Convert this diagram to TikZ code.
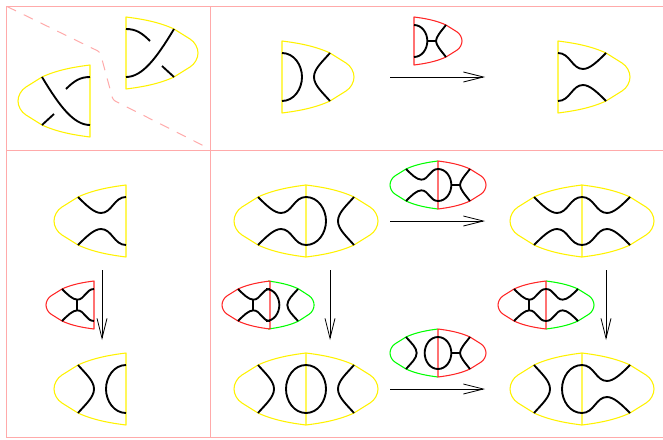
\documentclass[tikz,border=0pt]{standalone}
\usepackage{xcolor}
\usepackage{tikz}
\usetikzlibrary{arrows.meta}
\definecolor{framepink}{RGB}{255,170,170}
\newcommand{\lobecurve}{(0,-36) .. controls (16,-34) and (33,-31) .. (48,-24) -- (64,-14)
      .. controls (69,-11) and (72,-5) .. (72,0) .. controls (72,5) and (69,11) .. (64,14)
      -- (48,24) .. controls (33,31) and (16,34) .. (0,36)}
\newcommand{\wavycurves}{
    \draw[strand] (0,-24) .. controls (12,-24) and (14,-8) .. (25,-8) .. controls (32,-8) and (40,-16) .. (48,-24);
    \draw[strand] (0,24) .. controls (12,24) and (14,8) .. (25,8) .. controls (32,8) and (40,16) .. (48,24);
}
\tikzset{
  frameline/.style={draw=framepink, line width=0.6pt},
  cutline/.style={draw=framepink, line width=0.75pt, dash pattern=on 7.5pt off 6.5pt, rounded corners=2pt},
  yellowline/.style={draw=yellow, line width=0.8pt, line join=round},
  redline/.style={draw=red!85, line width=0.8pt, line join=round},
  greenline/.style={draw=green, line width=0.8pt, line join=round},
  strand/.style={draw=black, line width=1.4pt},
  arrow/.style={draw=black, line width=0.6pt, -{Straight Barb[length=15pt, width=7.5pt, line width=0.6pt]}},
  small/.style={scale=2/3},
  flipped/.style={xscale=-1},
  lobe/.pic={
    \draw[#1] \lobecurve -- cycle;
  },
  lobearc/.pic={
    \draw[#1] \lobecurve;
  },
  wavy/.pic={
    \wavycurves
  },
  wavybar/.pic={
    \wavycurves
    \draw[strand] (25,-8) -- (25,8);
  },
  capbow/.pic={
    \draw[strand] (0,-24) .. controls (12,-24) and (20,-12) .. (20,0) .. controls (20,12) and (12,24) .. (0,24);
    \draw[strand] (48,-24) .. controls (40,-15) and (32,-8) .. (32,0) .. controls (32,8) and (40,15) .. (48,24);
  },
  capfork/.pic={
    \draw[strand] (0,-24) .. controls (12,-24) and (20,-12) .. (20,0) .. controls (20,12) and (12,24) .. (0,24);
    \draw[strand] (48,-24) .. controls (40,-14) and (33,-6) .. (33,0) .. controls (33,6) and (40,14) .. (48,24);
    \draw[strand] (20,0) -- (33,0);
  },
  crossed/.pic={
    \draw[strand] (0,24) .. controls (16,24) and (30,6) .. (48,-24);
    \draw[strand] (0,-24) .. controls (10,-24) and (16,-20) .. (24,-12);
    \draw[strand] (48,24) -- (36,13);
  }
}
\begin{document}
\begin{tikzpicture}[x=0.75pt, y=-0.75pt]
  \useasboundingbox (0,0) rectangle (663,439);

  % Frame
  \draw[frameline] (663,6) -- (6,6) -- (6,437) -- (663,437);
  \draw[frameline] (6,150) -- (663,150);
  \draw[frameline] (210,6) -- (210,437);
  \draw[cutline] (7,6.5) -- (100,52) -- (113,100) -- (206,147);

  % Top left box
  \pic at (126,53) {lobe=yellowline};
  \pic at (126,53) {crossed};
  \pic[flipped] at (90,101) {lobe=yellowline};
  \pic[flipped] at (90,101) {crossed};

  % Top row
  \pic at (282,77) {lobe=yellowline};
  \pic at (282,77) {capbow};
  \pic[small] at (414,41) {lobe=redline};
  \pic[small] at (414,41) {capfork};
  \pic at (558,77) {lobe=yellowline};
  \pic at (558,77) {wavy};

  % Left column
  \pic[flipped] at (126,221) {lobe=yellowline};
  \pic[flipped] at (126,221) {wavy};
  \pic[flipped, small] at (94,305) {lobe=redline};
  \pic[flipped, small] at (94,305) {wavybar};
  \pic[flipped] at (126,389) {lobe=yellowline};
  \pic[flipped] at (126,389) {capbow};

  % Large lenses
  \pic[flipped] at (306,221) {lobearc=yellowline};
  \pic at (306,221) {lobe=yellowline};
  \pic[flipped] at (306,221) {wavy};
  \pic at (306,221) {capbow};

  \pic[flipped] at (582,221) {lobearc=yellowline};
  \pic at (582,221) {lobe=yellowline};
  \pic[flipped] at (582,221) {wavy};
  \pic at (582,221) {wavy};

  \pic[flipped] at (306,389) {lobearc=yellowline};
  \pic at (306,389) {lobe=yellowline};
  \pic[flipped] at (306,389) {capbow};
  \pic at (306,389) {capbow};

  \pic[flipped] at (582,389) {lobearc=yellowline};
  \pic at (582,389) {lobe=yellowline};
  \pic[flipped] at (582,389) {capbow};
  \pic at (582,389) {wavy};

  % Small lenses
  \pic[flipped, small] at (438,185) {lobearc=greenline};
  \pic[small] at (438,185) {lobe=redline};
  \pic[flipped, small] at (438,185) {wavy};
  \pic[small] at (438,185) {capfork};

  \pic[flipped, small] at (438,353) {lobearc=greenline};
  \pic[small] at (438,353) {lobe=redline};
  \pic[flipped, small] at (438,353) {capbow};
  \pic[small] at (438,353) {capfork};

  \pic[small, xscale=0.96] at (268,305) {lobearc=greenline};
  \pic[flipped, small] at (270,305) {lobe=redline};
  \pic[flipped, small] at (270,305) {wavybar};
  \pic[small] at (266,305) {capbow};

  \pic[small] at (546,305) {lobearc=greenline};
  \pic[flipped, small] at (546,305) {lobe=redline};
  \pic[flipped, small] at (546,305) {wavybar};
  \pic[small] at (546,305) {wavy};

  % Arrows
  \coordinate (top1) at (390,77);
  \coordinate (top2) at (485,77);
  \coordinate (mid1) at (390,221);
  \coordinate (mid2) at (485,221);
  \coordinate (low1) at (390,389);
  \coordinate (low2) at (485,389);
  \coordinate (colA1) at (102,270);
  \coordinate (colA2) at (102,340);
  \coordinate (colB1) at (330,270);
  \coordinate (colB2) at (330,340);
  \coordinate (colC1) at (606,270);
  \coordinate (colC2) at (606,340);
  \draw[arrow] (top1) -- (top2);
  \draw[arrow] (mid1) -- (mid2);
  \draw[arrow] (low1) -- (low2);
  \draw[arrow] (colA1) -- (colA2);
  \draw[arrow] (colB1) -- (colB2);
  \draw[arrow] (colC1) -- (colC2);
\end{tikzpicture}
\end{document}
